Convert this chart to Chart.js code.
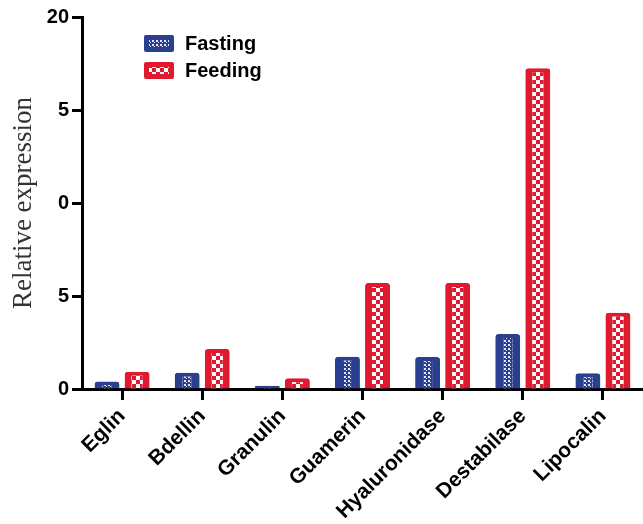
<!DOCTYPE html>
<html>
<head>
<meta charset="utf-8">
<script src="https://cdn.jsdelivr.net/npm/chart.js@4.4.1/dist/chart.umd.min.js"></script>
<style>
  body { margin: 0; background: #fff; }
  #wrap { width: 643px; height: 524px; }
</style>
</head>
<body>
<div id="wrap"><canvas id="grafico"></canvas></div>
<script>
const categorias = ["Eglin", "Bdellin", "Granulin", "Guamerin", "Hyaluronidase", "Destabilase", "Lipocalin"];
const valoresFasting = [0.4, 0.88, 0.18, 1.74, 1.72, 2.96, 0.85];
const valoresFeeding = [0.93, 2.15, 0.58, 5.7, 5.7, 17.25, 4.1];
const etiquetasY = ["0", "5", "0", "5", "20"];

const azul = "#2a3f90";
const rojo = "#e01a2e";

// patrones de relleno
function patronPuntos() {
    const c = document.createElement("canvas");
    c.width = 4; c.height = 4;
    const ctx = c.getContext("2d");
    ctx.fillStyle = azul;
    ctx.fillRect(0, 0, 4, 4);
    ctx.fillStyle = "#dfe4f5";
    ctx.fillRect(0, 0, 2, 2);
    ctx.fillRect(2, 2, 1, 1);
    return ctx.createPattern(c, "repeat");
}

function patronCuadros() {
    const c = document.createElement("canvas");
    c.width = 8; c.height = 8;
    const ctx = c.getContext("2d");
    ctx.fillStyle = rojo;
    ctx.fillRect(0, 0, 8, 8);
    ctx.fillStyle = "#fff";
    ctx.fillRect(0, 0, 4, 4);
    ctx.fillRect(4, 4, 4, 4);
    return ctx.createPattern(c, "repeat");
}

const leyenda = {
    id: "leyenda",
    afterDraw(chart) {
        const ctx = chart.ctx;
        ctx.save();
        chart.data.datasets.forEach((ds, i) => {
            const y = 35 + i * 27;
            ctx.fillStyle = ds.borderColor;
            ctx.beginPath();
            ctx.roundRect(144, y, 30, 17, 2);
            ctx.fill();
            ctx.fillStyle = ds.backgroundColor;
            ctx.fillRect(149, y + 5, 20, 7);
            ctx.fillStyle = "#000";
            ctx.font = "bold 20px 'Liberation Sans', Arial, sans-serif";
            ctx.textBaseline = "middle";
            ctx.fillText(ds.label, 185, y + 9);
        });
        ctx.restore();
    },
};

const config = {
    type: "bar",
    data: {
        labels: categorias,
        datasets: [
            {
                label: "Fasting",
                data: valoresFasting,
                backgroundColor: patronPuntos(),
                borderColor: azul,
                borderWidth: { left: 8, right: 8, top: 4, bottom: 0 },
                borderRadius: { topLeft: 3, topRight: 3 },
                borderSkipped: false,
            },
            {
                label: "Feeding",
                data: valoresFeeding,
                backgroundColor: patronCuadros(),
                borderColor: rojo,
                borderWidth: { left: 7, right: 7, top: 4, bottom: 0 },
                borderRadius: { topLeft: 3, topRight: 3 },
                borderSkipped: false,
            },
        ],
    },
    options: {
        responsive: true,
        maintainAspectRatio: false,
        animation: false,
        categoryPercentage: 0.75,
        barPercentage: 0.83,
        layout: { padding: { top: 17, right: 0 } },
        plugins: {
            legend: { display: false },
            tooltip: { enabled: false },
        },
        scales: {
            x: {
                grid: {
                    offset: false,
                    drawOnChartArea: false,
                    tickLength: 11,
                    tickWidth: 3,
                    tickColor: "#000",
                },
                border: { color: "#000", width: 3 },
                ticks: {
                    color: "#000",
                    minRotation: 45,
                    maxRotation: 45,
                    padding: 4,
                    font: { family: "'Liberation Sans', Arial", weight: "bold", size: 21 },
                },
                afterFit: (scale) => { scale.height = 135; },
            },
            y: {
                min: 0,
                max: 20,
                grid: {
                    drawOnChartArea: false,
                    tickLength: 10,
                    tickWidth: 3,
                    tickColor: "#000",
                },
                border: { color: "#000", width: 3 },
                ticks: {
                    stepSize: 5,
                    color: "#000",
                    padding: 3,
                    font: { family: "'Liberation Sans', Arial", weight: "bold", size: 20 },
                    callback: (v, i) => etiquetasY[i],
                },
                title: {
                    display: true,
                    text: "Relative expression",
                    color: "#333",
                    padding: { top: 8, bottom: 0 },
                    font: { family: "'Liberation Serif', 'Times New Roman'", size: 27 },
                },
                afterFit: (scale) => { scale.width = 82; },
            },
        },
    },
    plugins: [leyenda],
};

const grafico = new Chart(document.getElementById("grafico"), config);
</script>
</body>
</html>
